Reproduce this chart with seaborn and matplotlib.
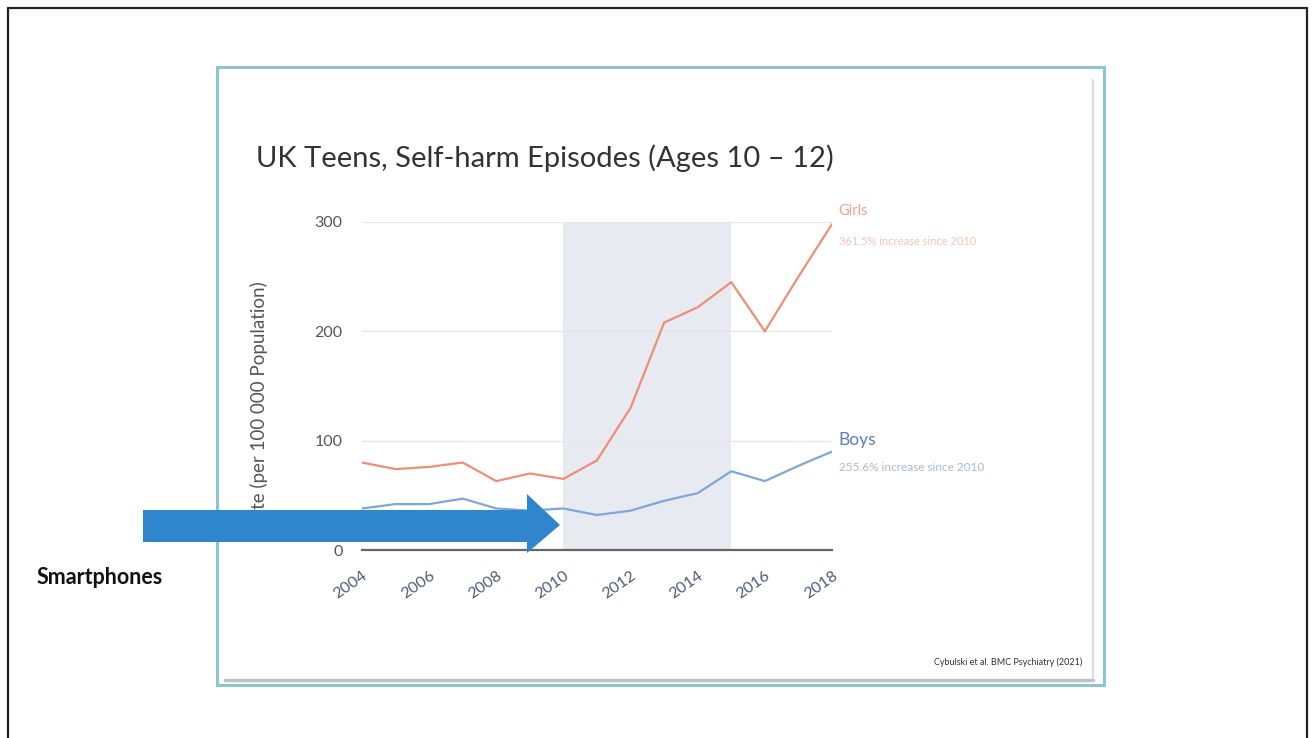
import matplotlib
matplotlib.use("Agg")
import matplotlib.pyplot as plt
from matplotlib.patches import Rectangle, Polygon
from matplotlib.lines import Line2D
import seaborn as sns
import pandas as pd

years = list(range(2004, 2019))
girls = [80, 74, 76, 80, 63, 70, 65, 82, 130, 208, 222, 245, 200, 250, 298]
boys = [38, 42, 42, 47, 38, 36, 38, 32, 36, 45, 52, 72, 63, 77, 90]
x_ticks = [2004, 2006, 2008, 2010, 2012, 2014, 2016, 2018]
y_ticks = [0, 100, 200, 300]
shade_span = (2010, 2015)

title = "UK Teens, Self-harm Episodes (Ages 10 \u2013 12)"
y_label = "Rate (per 100 000 Population)"
girls_label = "Girls"
girls_note = "361.5% increase since 2010"
boys_label = "Boys"
boys_note = "255.6% increase since 2010"
source = "Cybulski et al. BMC Psychiatry (2021)"
arrow_label = "Smartphones"

df = pd.DataFrame({
    "year": years * 2,
    "rate": girls + boys,
    "group": ["Girls"] * len(years) + ["Boys"] * len(years),
})

sns.set_theme(style="white")
plt.rcParams["font.family"] = ["Lato", "DejaVu Sans"]

W, H = 1312, 738
fig = plt.figure(figsize=(W / 100, H / 100), dpi=100)
fig.patch.set_facecolor("white")

def fx(px):
    return px / W

def fy(py):
    return 1 - py / H

# outer page frame
for xs, ys in [([8, 8], [738, 8]), ([8, 1307], [8, 8]), ([1307, 1307], [8, 738])]:
    fig.add_artist(Line2D([fx(v) for v in xs], [fy(v) for v in ys], color="#222222", lw=1.6))

# slide frame with shadow
fig.add_artist(Rectangle((fx(217), fy(685)), fx(1104) - fx(217), fy(67) - fy(685),
                         facecolor="white", edgecolor="#8cc4d2", lw=2.2, zorder=0))
fig.add_artist(Line2D([fx(225), fx(1093)], [fy(680), fy(680)], color="#b0b0b8", lw=2.5, alpha=0.8))
fig.add_artist(Line2D([fx(1093), fx(1093)], [fy(80), fy(680)], color="#d0d0d6", lw=1.5, alpha=0.8))

ax = fig.add_axes([fx(362), fy(550), fx(832) - fx(362), fy(222) - fy(550)])
ax.set_facecolor("none")

ax.axvspan(shade_span[0], shade_span[1], color="#e8eaf1", zorder=0, lw=0)

sns.lineplot(data=df, x="year", y="rate", hue="group",
             palette={"Girls": "#ec8e78", "Boys": "#7fa6d8"},
             linewidth=1.6, legend=False, ax=ax, zorder=3)

ax.set_xlim(2004, 2018)
ax.set_ylim(0, 300)
ax.set_xticks(x_ticks)
ax.set_yticks(y_ticks)
ax.set_xticklabels([str(v) for v in x_ticks], rotation=35, ha="right",
                   rotation_mode="anchor", color="#4d5b78", fontsize=11.5)
ax.set_yticklabels([str(v) for v in y_ticks], color="#555555", fontsize=11.5)
for g in y_ticks[1:]:
    ax.axhline(g, color="#e6e6e6", lw=1.0, zorder=1)

for side in ["top", "right", "left"]:
    ax.spines[side].set_visible(False)
ax.spines["bottom"].set_color("#666666")
ax.spines["bottom"].set_linewidth(1.6)
ax.spines["bottom"].set_zorder(4)
ax.tick_params(axis="x", direction="inout", length=11, width=1.5, color="#444444", pad=8)
ax.tick_params(axis="y", length=0, pad=14)
ax.set_xlabel("")
ax.set_ylabel(y_label, color="#555555", fontsize=13.5)
ax.yaxis.set_label_coords(-0.2, 0.44)

ax.text(2018.2, 310, girls_label, color="#f0a090", fontsize=10.5, va="center", ha="left", clip_on=False)
ax.text(2018.2, 282, girls_note, color="#f4c4b8", fontsize=8, va="center", ha="left", clip_on=False)
ax.text(2018.2, 101, boys_label, color="#5a7cc0", fontsize=12.5, va="center", ha="left", clip_on=False)
ax.text(2018.2, 75, boys_note, color="#a9b8d4", fontsize=8.5, va="center", ha="left", clip_on=False)

fig.text(fx(1082), fy(662), source, ha="right", va="center", fontsize=6.5, color="#333333")
fig.text(fx(256), fy(158), title, ha="left", va="center", fontsize=21, color="#333333")

# arrow
pts = [(143, 510), (527, 510), (527, 494), (560, 525), (527, 553), (527, 542), (143, 542)]
fig.add_artist(Polygon([(fx(a), fy(b)) for a, b in pts], closed=True,
                       facecolor="#2f86cc", edgecolor="none", zorder=10))
fig.text(fx(37), fy(578), arrow_label, ha="left", va="center", fontsize=15.5,
         fontweight="bold", color="#111111")

fig.savefig("out.png", dpi=100, facecolor="white")
